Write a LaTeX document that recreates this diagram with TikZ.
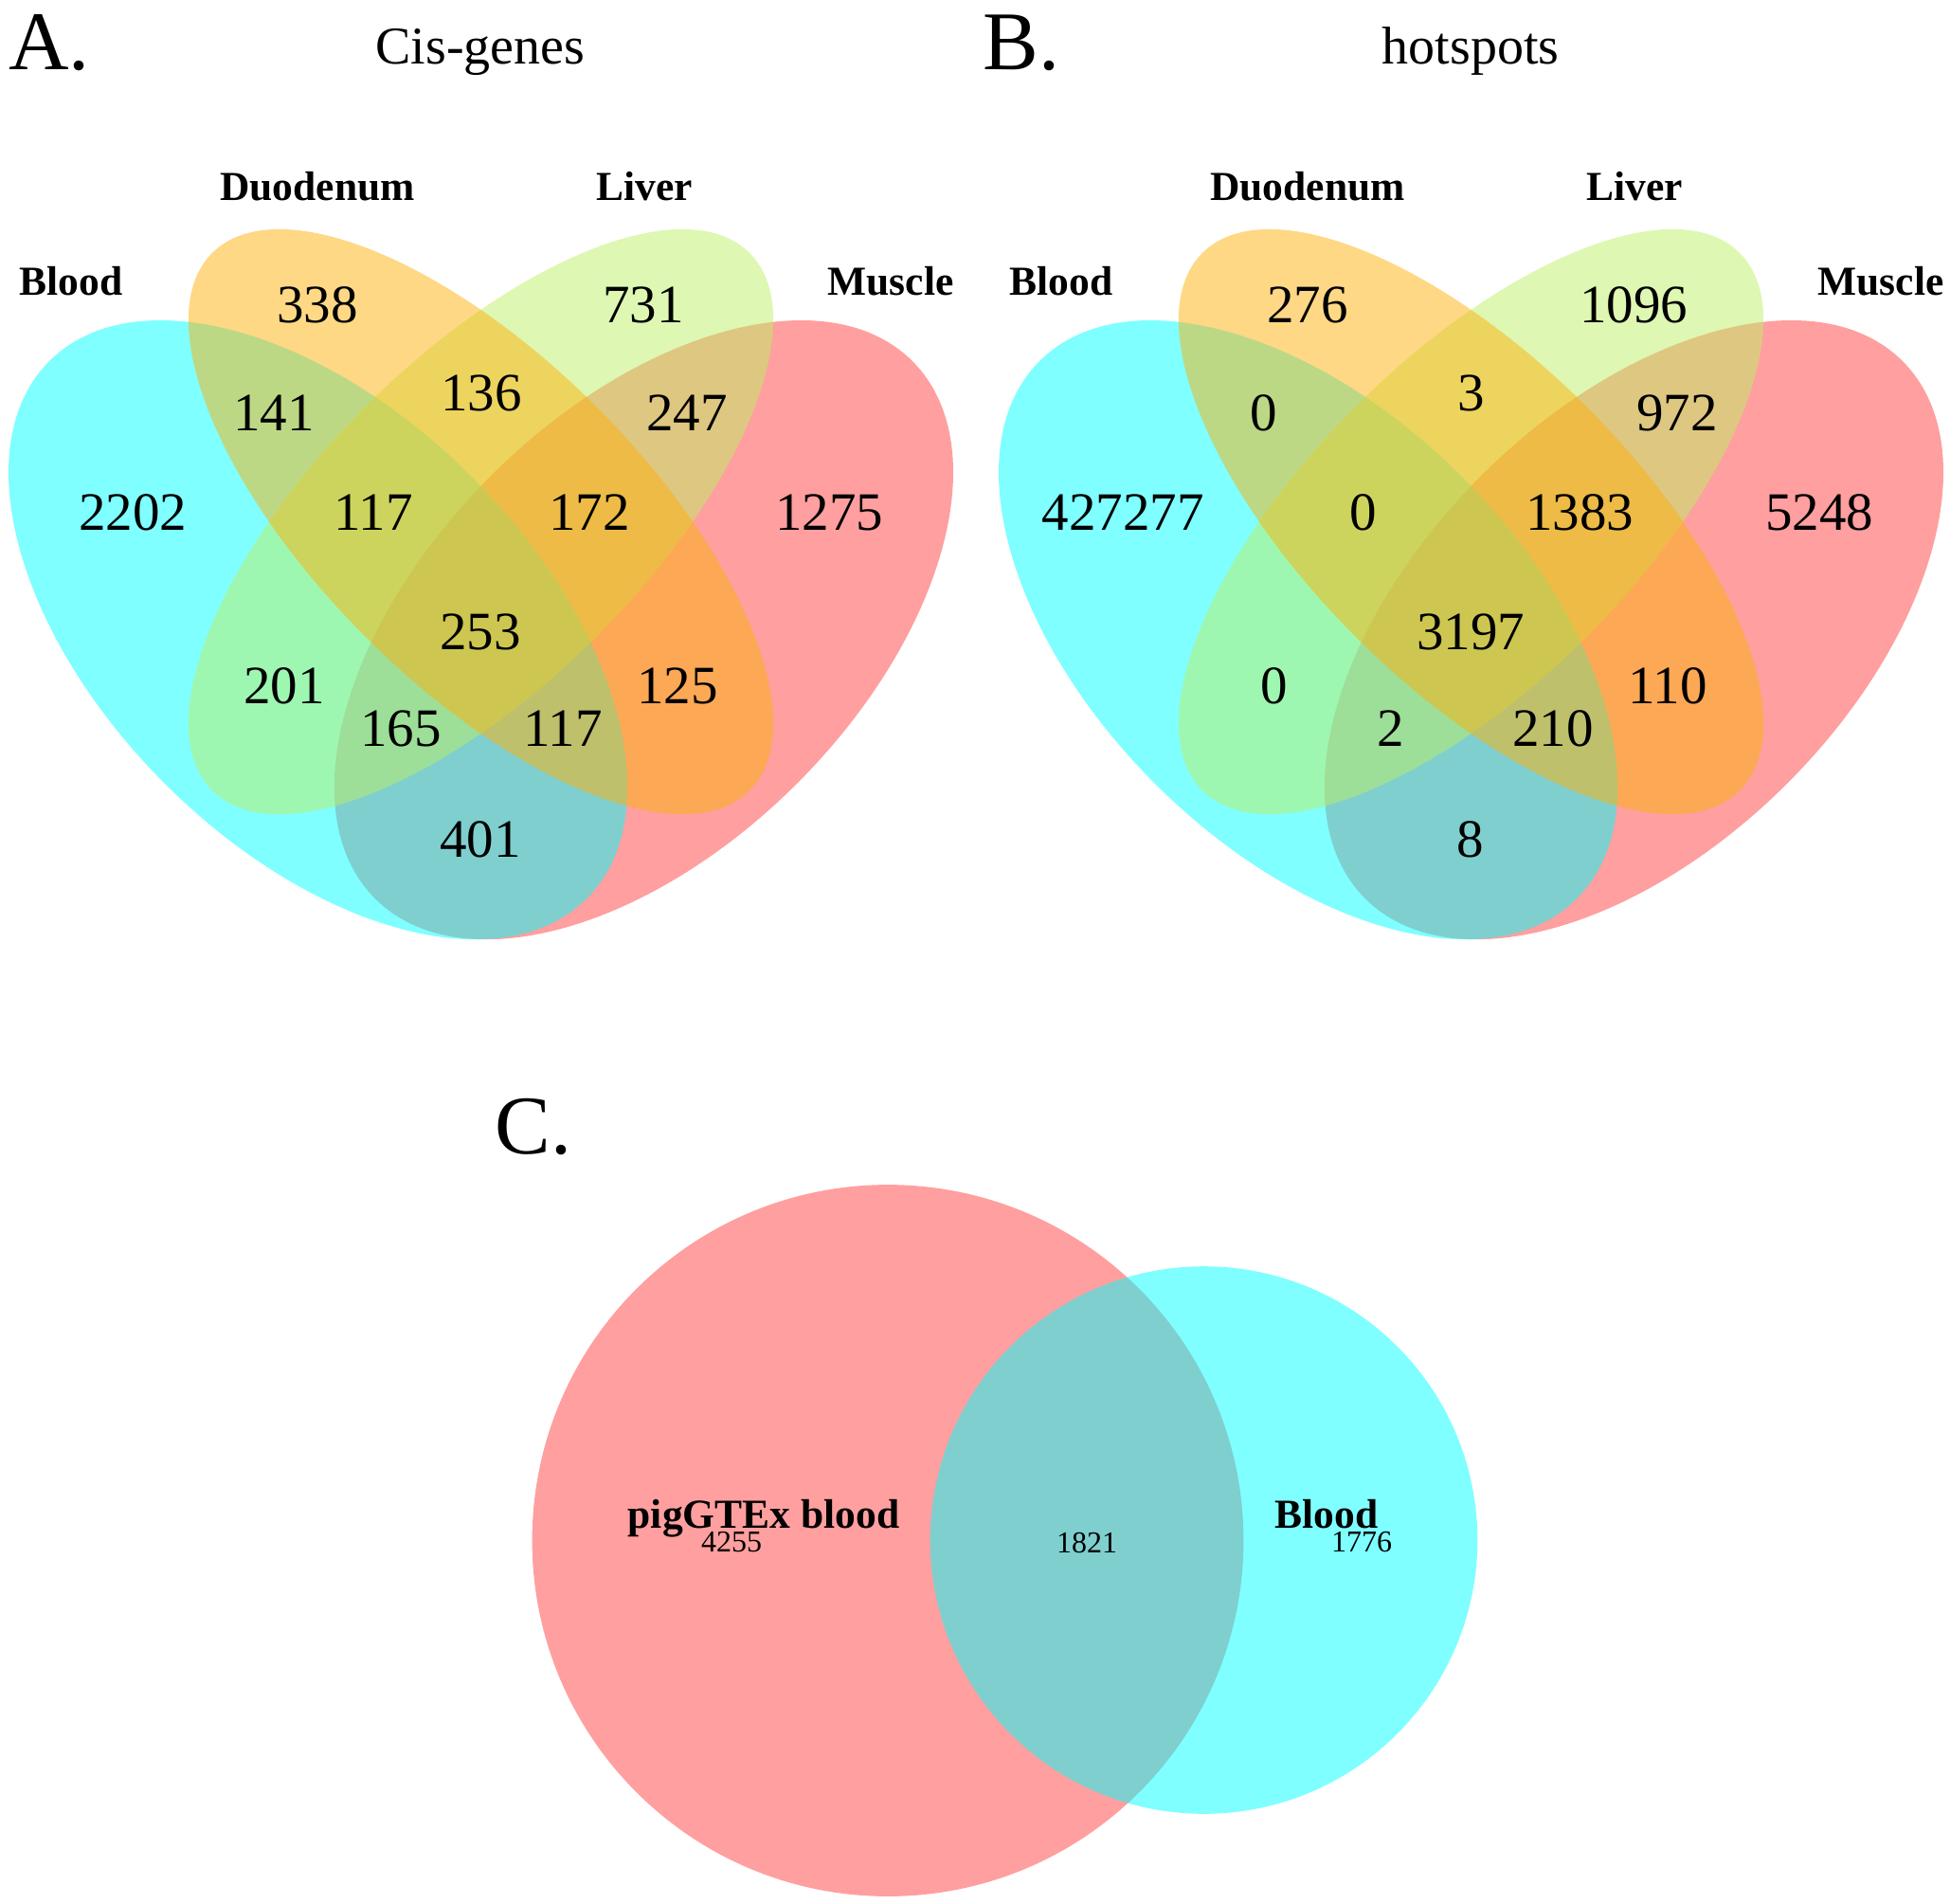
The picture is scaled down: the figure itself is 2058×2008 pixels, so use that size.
\documentclass[tikz,border=0pt]{standalone}
\usepackage{fontspec}
\setmainfont{Liberation Serif}
\usepackage{tikz}
\definecolor{bloodcol}{RGB}{0,255,255}
\definecolor{musclecol}{RGB}{255,64,64}
\definecolor{duocol}{RGB}{253,178,12}
\definecolor{livercol}{RGB}{189,239,101}
\tikzset{every picture/.style={line width=0.75pt}}

\begin{document}
\begin{tikzpicture}[x=1pt,y=1pt,yscale=-1,
	setfill/.style={fill opacity=0.5},
	num/.style={inner sep=0pt,font=\fontsize{57}{57}\selectfont},
	smallnum/.style={inner sep=0pt,font=\fontsize{32}{32}\selectfont},
	setlab/.style={inner sep=0pt,font=\fontsize{43.5}{44}\selectfont\bfseries},
	paneltitle/.style={inner sep=0pt,font=\fontsize{56}{56}\selectfont},
	panelletter/.style={inner sep=0pt,anchor=base west,font=\fontsize{88}{88}\selectfont}]
		\useasboundingbox (0,0) rectangle (2058,2008);
		
		%Panel A: Cis-genes
		\coordinate (a-muscle) at (679.4,664.6);
		\coordinate (a-blood) at (335.6,664.6);
		\coordinate (a-liver) at (507.5,550.5);
		\coordinate (a-duo) at (507.5,550.5);
		%Shape: Ellipses
		\fill [musclecol,setfill] (a-muscle) ellipse [x radius=401,y radius=229,rotate=-45];
		\fill [bloodcol,setfill] (a-blood) ellipse [x radius=401,y radius=229,rotate=45];
		\fill [livercol,setfill] (a-liver) ellipse [x radius=401,y radius=172,rotate=-45];
		\fill [duocol,setfill] (a-duo) ellipse [x radius=401,y radius=172,rotate=45];
		
		% Text Node
		\node [panelletter] (a-letter) at (9,73) {A.};
		\node [paneltitle,anchor=base] (a-title) at (507,67) {Cis-genes};
		\node [setlab] (a-bloodlab) at (75,297) {Blood};
		\node [setlab] (a-duolab) at (335,197) {Duodenum};
		\node [setlab] (a-liverlab) at (680,197) {Liver};
		\node [setlab] (a-musclelab) at (940,297) {Muscle};
		% Text Node
		\node [num] (a-d) at (335,322) {338};
		\node [num] (a-l) at (679,322) {731};
		\node [num] (a-bd) at (289,436) {141};
		\node [num] (a-dl) at (508,415) {136};
		\node [num] (a-lm) at (725,436) {247};
		\node [num] (a-b) at (140,541) {2202};
		\node [num] (a-bdl) at (394,541) {117};
		\node [num] (a-dlm) at (622,541) {172};
		\node [num] (a-m) at (875,541) {1275};
		\node [num] (a-all) at (507,667) {253};
		\node [num] (a-bl) at (300,724) {201};
		\node [num] (a-dm) at (715,724) {125};
		\node [num] (a-blm) at (423,769) {165};
		\node [num] (a-bdm) at (594,769) {117};
		\node [num] (a-bm) at (507,886) {401};
		
		%Panel B: hotspots
		\coordinate (b-muscle) at (1724.4,664.6);
		\coordinate (b-blood) at (1380.6,664.6);
		\coordinate (b-liver) at (1552.5,550.5);
		\coordinate (b-duo) at (1552.5,550.5);
		%Shape: Ellipses
		\fill [musclecol,setfill] (b-muscle) ellipse [x radius=401,y radius=229,rotate=-45];
		\fill [bloodcol,setfill] (b-blood) ellipse [x radius=401,y radius=229,rotate=45];
		\fill [livercol,setfill] (b-liver) ellipse [x radius=401,y radius=172,rotate=-45];
		\fill [duocol,setfill] (b-duo) ellipse [x radius=401,y radius=172,rotate=45];
		
		% Text Node
		\node [panelletter] (b-letter) at (1037,73) {B.};
		\node [paneltitle,anchor=base] (b-title) at (1552,67) {hotspots};
		\node [setlab] (b-bloodlab) at (1120,297) {Blood};
		\node [setlab] (b-duolab) at (1380,197) {Duodenum};
		\node [setlab] (b-liverlab) at (1725,197) {Liver};
		\node [setlab] (b-musclelab) at (1985,297) {Muscle};
		% Text Node
		\node [num] (b-d) at (1380,322) {276};
		\node [num] (b-l) at (1724,322) {1096};
		\node [num] (b-bd) at (1334,436) {0};
		\node [num] (b-dl) at (1553,415) {3};
		\node [num] (b-lm) at (1770,436) {972};
		\node [num] (b-b) at (1185,541) {427277};
		\node [num] (b-bdl) at (1439,541) {0};
		\node [num] (b-dlm) at (1667,541) {1383};
		\node [num] (b-m) at (1920,541) {5248};
		\node [num] (b-all) at (1552,667) {3197};
		\node [num] (b-bl) at (1345,724) {0};
		\node [num] (b-dm) at (1760,724) {110};
		\node [num] (b-blm) at (1468,769) {2};
		\node [num] (b-bdm) at (1639,769) {210};
		\node [num] (b-bm) at (1552,886) {8};
		
		%Panel C: pigGTEx blood vs Blood
		\coordinate (c-gtex) at (937,1625.5);
		\coordinate (c-blood) at (1270.5,1625);
		\fill [musclecol,setfill] (c-gtex) circle [radius=375.4];
		\fill [bloodcol,setfill] (c-blood) circle [radius=288.8];
		
		% Text Node
		\node [panelletter] (c-letter) at (522,1217) {C.};
		\node [setlab,anchor=base] (c-gtexlab) at (806,1612) {pigGTEx blood};
		\node [setlab,anchor=base] (c-bloodlab) at (1400,1612) {Blood};
		\node [smallnum] (c-g) at (772,1627.5) {4255};
		\node [smallnum] (c-gb) at (1147,1627.5) {1821};
		\node [smallnum] (c-b) at (1437,1627.5) {1776};
\end{tikzpicture}
\end{document}
